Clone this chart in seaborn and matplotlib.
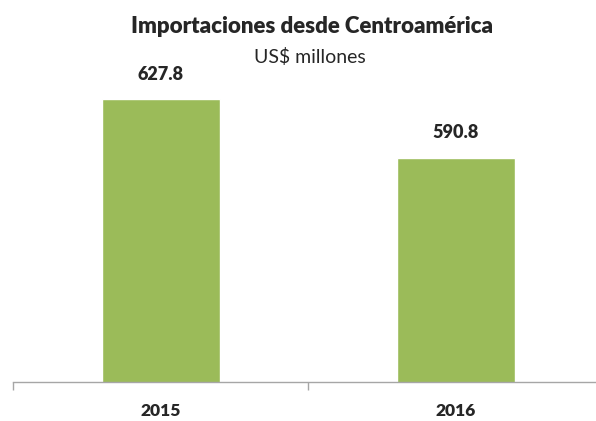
import numpy as np
import pandas as pd
import seaborn as sns
import matplotlib.pyplot as plt
from matplotlib.ticker import FixedLocator

# chart data
years = ["2015", "2016"]
values = [627.8, 590.8]
title = "Importaciones desde Centroamérica"
subtitle = "US$ millones"

df = pd.DataFrame({"year": years, "value": values})

sns.set_theme(style="white")
plt.rcParams['font.family'] = ['Lato', 'DejaVu Sans']

fig = plt.figure(figsize=(5.96, 4.21), dpi=100)
ax = fig.add_axes([13 / 596, 39 / 421, 590 / 596, 318 / 421])

sns.barplot(data=df, x="year", y="value", color="#9BBB59", width=0.4,
            saturation=1, ax=ax)

ax.set_xlim(-0.5, 1.5)
ax.set_ylim(450, 650)
ax.set_xlabel("")
ax.set_ylabel("")
ax.set_yticks([])

# category separators as minor ticks (right one falls outside the picture)
ax.xaxis.set_minor_locator(FixedLocator([-0.5, 0.5]))
ax.tick_params(axis="x", which="minor", length=6, width=1, color="#A6A6A6",
               direction="out", bottom=True)
ax.tick_params(axis="x", which="major", length=0, pad=15, labelsize=12.5)
for lbl in ax.get_xticklabels():
    lbl.set_fontweight("heavy")

for side in ["top", "right", "left"]:
    ax.spines[side].set_visible(False)
ax.spines["bottom"].set_color("#A6A6A6")
ax.spines["bottom"].set_linewidth(1)

# value labels
for i, v in enumerate(values):
    ax.annotate(f"{v:.1f}", (i, v), xytext=(0, 12), textcoords="offset points",
                ha="center", va="bottom", fontsize=13, fontweight="heavy")

fig.text(0.524, 0.962, title, ha="center", va="top", fontsize=16, fontweight="heavy")
fig.text(0.52, 0.885, subtitle, ha="center", va="top", fontsize=14)

fig.savefig("out.png", dpi=100)
